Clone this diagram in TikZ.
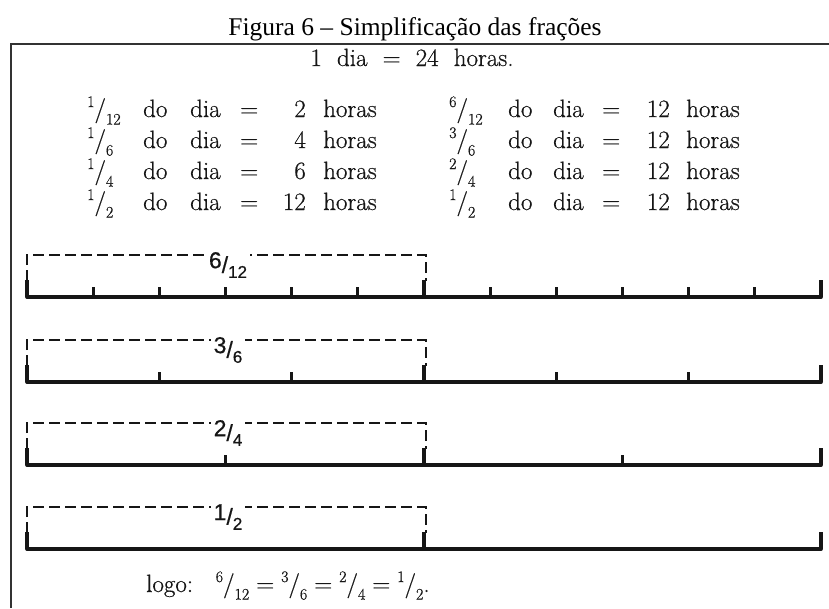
\documentclass[tikz,border=0pt]{standalone}
\usepackage{fontspec}
\newfontfamily\captionfont{Liberation Serif}
\newfontfamily\handfont{Liberation Sans}[FakeBold=0.6]
\newfontfamily\scanfont{Latin Modern Roman}[FakeBold=0.5]
\usetikzlibrary{positioning}
\definecolor{scanink}{RGB}{22,22,22}
\definecolor{frameline}{RGB}{50,50,50}

% small printed fraction (raised numerator, lowered denominator)
\newcommand\pfr[2]{\raisebox{.40em}{\fontsize{16}{16}\selectfont#1}/\raisebox{-.30em}{\fontsize{16}{16}\selectfont#2}}
% hand lettered fraction on the strips
\newcommand\hfr[2]{\raisebox{.20em}{#1}/\raisebox{-.22em}{\fontsize{17}{17}\selectfont#2}}

\tikzset{
  rowtxt/.style={scanink, anchor=base west, inner sep=0pt, font=\scanfont\fontsize{25}{28}\selectfont},
  numtxt/.style={rowtxt, anchor=base east},
  axisline/.style={scanink, line width=3.8pt, line cap=round},
  smalltick/.style={scanink, line width=3pt},
  bigtick/.style={scanink, line width=3.6pt},
  fracbox/.style={scanink, line width=2.6pt, dash pattern=on 11pt off 5pt},
  striplbl/.style={scanink, fill=white, inner xsep=3pt, inner ysep=1pt, font=\handfont\fontsize{23}{24}\selectfont}
}

\begin{document}
\begin{tikzpicture}[x=1pt, y=-1pt]
\useasboundingbox (0,0) rectangle (829,608);
\fill[white] (0,0) rectangle (829,608);

% caption and frame
\node[anchor=base, inner sep=0pt, font=\captionfont\fontsize{25.5}{28}\selectfont] (caption) at (415,35)
  {Figura 6 – Simplificação das frações};
\draw[frameline, line width=1.3pt] (11,608) -- (11,44) -- (829,44);

\node[rowtxt, anchor=base] (dia) at (412,66) {1\ \ dia \ = \ 24\ \ horas.};

% ---- table of fractions ----
\foreach \y/\a/\b/\h/\c/\d in {117/1/12/2/6/12, 148/1/6/4/3/6, 179/1/4/6/2/4, 210/1/2/12/1/2}{
  \node[rowtxt] (lfr\y) at (87,\y)  {\pfr{\a}{\b}};
  \node[rowtxt] (ldo\y) at (143,\y) {do};
  \node[rowtxt] (ldi\y) at (190,\y) {dia};
  \node[rowtxt] (leq\y) at (240,\y) {=};
  \node[numtxt] (lh\y)  at (306,\y) {\h};
  \node[rowtxt] (lho\y) at (323,\y) {horas};
  \node[rowtxt] (rfr\y) at (449,\y) {\pfr{\c}{\d}};
  \node[rowtxt] (rdo\y) at (508,\y) {do};
  \node[rowtxt] (rdi\y) at (553,\y) {dia};
  \node[rowtxt] (req\y) at (602,\y) {=};
  \node[numtxt] (rh\y)  at (670,\y) {12};
  \node[rowtxt] (rho\y) at (686,\y) {horas};
}

% ---- strips ----
\foreach \yt/\n/\num/\den in {255/12/6/12, 340/6/3/6, 423/4/2/4, 507/2/1/2}{
  \draw[fracbox] (27,\yt+26) -- (27,\yt) -- (426,\yt) -- (426,\yt+26);
  \draw[axisline] (27,\yt+42) -- (821,\yt+42);
  \pgfmathtruncatemacro\nm{\n-1}
  \foreach \i in {1,...,\nm}
    \draw[smalltick] ({27+\i*794/\n},\yt+42) -- ++(0,-10);
  \foreach \xe in {27,424,821}
    \draw[bigtick] (\xe,\yt+42) -- ++(0,-17);
  \node[striplbl] (strip\n) at (228,\yt+10) {\hfr{\num}{\den}};
}

% conclusion
\node[rowtxt] (logo) at (146,592) {logo:\ \ \ \pfr{6}{12}\;=\;\pfr{3}{6}\;=\;\pfr{2}{4}\;=\;\pfr{1}{2}.};
\end{tikzpicture}
\end{document}
